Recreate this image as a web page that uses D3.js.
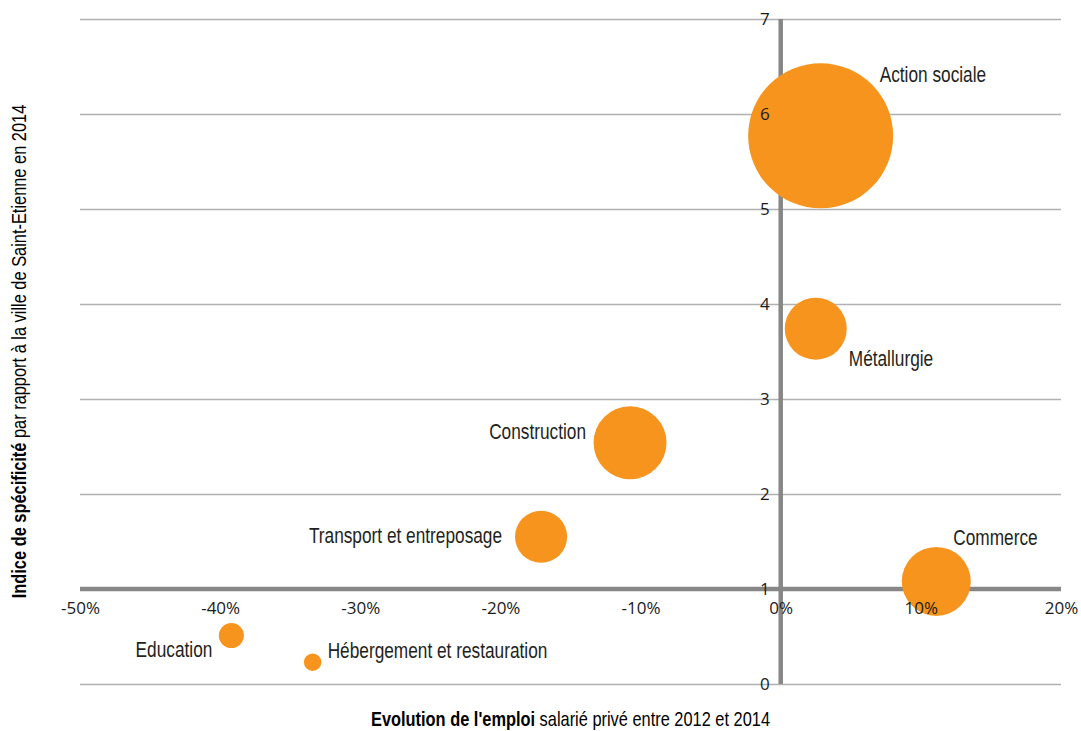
<!DOCTYPE html>
<html>
<head>
<meta charset="utf-8">
<script src="https://cdn.jsdelivr.net/npm/d3@7"></script>
<style>
  body { margin: 0; background: #fff; }
</style>
</head>
<body>
<div id="chart"></div>
<script>
const sectors = ['Action sociale', 'Métallurgie', 'Construction', 'Transport et entreposage', 'Commerce', 'Education', 'Hébergement et restauration'];
const evolution = [0.0285, 0.025, -0.1075, -0.171, 0.111, -0.392, -0.334];
const specificity = [5.77, 3.74, 2.54, 1.55, 1.08, 0.51, 0.23];
const employees = [10000, 1830, 2530, 1290, 2265, 300, 145];
const xTicks = [-0.5, -0.4, -0.3, -0.2, -0.1, 0, 0.1, 0.2];
const yTicks = [0, 1, 2, 3, 4, 5, 6, 7];

const data = sectors.map((s, i) => ({
    name: s, x: evolution[i], y: specificity[i], size: employees[i]
}));

// label placement around each bubble
const labelPos = {
    'Action sociale': { dx: 59, dy: -54, anchor: 'start' },
    'Métallurgie': { dx: 33, dy: 37, anchor: 'start' },
    'Construction': { dx: -44, dy: -4, anchor: 'end' },
    'Transport et entreposage': { dx: -39, dy: 6, anchor: 'end' },
    'Commerce': { dx: 17, dy: -36, anchor: 'start' },
    'Education': { dx: -19, dy: 21, anchor: 'end' },
    'Hébergement et restauration': { dx: 15, dy: -4, anchor: 'start' }
};

const width = 1081;
const height = 731;
const margin = { top: 19, bottom: 47, left: 80, right: 20 };
// condensed look: Liberation Sans squeezed horizontally
const narrow = "'Liberation Sans', Arial, sans-serif";
const orange = '#f7941d';

const svg = d3.select('#chart')
    .append('svg')
    .attr('width', width)
    .attr('height', height);

const x = d3.scaleLinear()
    .domain([-0.5, 0.2])
    .range([margin.left, width - margin.right]);

const y = d3.scaleLinear()
    .domain([0, 7])
    .range([height - margin.bottom, margin.top]);

const r = d3.scaleSqrt()
    .domain([0, 10000])
    .range([0, 72.5]);

// horizontal grid
svg.append('g')
    .attr('transform', `translate(${x.range()[0]},0)`)
    .call(d3.axisLeft(y).tickValues(yTicks).tickSize(-(x.range()[1] - x.range()[0])).tickFormat(''))
    .call(g => g.select('.domain').remove())
    .call(g => g.selectAll('line').attr('stroke', '#b1b1b1').attr('stroke-width', 1.5));

// thick axis lines
svg.append('line')
    .attr('x1', x.range()[0]).attr('x2', x.range()[1])
    .attr('y1', y(1)).attr('y2', y(1))
    .attr('stroke', '#878787').attr('stroke-width', 4.5);
svg.append('line')
    .attr('x1', x(0)).attr('x2', x(0))
    .attr('y1', y(7)).attr('y2', y(0))
    .attr('stroke', '#878787').attr('stroke-width', 4.5);

// bubbles
svg.append('g')
    .selectAll('circle')
    .data(data)
    .join('circle')
    .attr('cx', d => x(d.x))
    .attr('cy', d => y(d.y))
    .attr('r', d => r(d.size))
    .attr('fill', orange);

// tick labels
svg.append('g')
    .attr('transform', `translate(${x(0)},0)`)
    .call(d3.axisLeft(y).tickValues(yTicks).tickSize(0).tickPadding(11).tickFormat(d3.format('d')))
    .call(g => g.select('.domain').remove())
    .call(g => g.selectAll('text')
        .style('font-family', "'Open Sans', sans-serif")
        .style('font-size', '17px')
        .attr('fill', '#1a1a1a'));

svg.append('g')
    .attr('transform', `translate(0,${y(1)})`)
    .call(d3.axisBottom(x).tickValues(xTicks).tickSize(0).tickPadding(13)
        .tickFormat(d => Math.round(d * 100) + '%'))
    .call(g => g.select('.domain').remove())
    .call(g => g.selectAll('text')
        .style('font-family', "'Open Sans', sans-serif")
        .style('font-size', '17px')
        .attr('fill', '#1a1a1a'));

// bubble labels
svg.append('g')
    .selectAll('text')
    .data(data)
    .join('text')
    .attr('transform', d => `translate(${x(d.x) + labelPos[d.name].dx},${y(d.y) + labelPos[d.name].dy}) scale(0.785,1)`)
    .attr('text-anchor', d => labelPos[d.name].anchor)
    .style('font-family', narrow)
    .style('font-size', '22px')
    .attr('fill', '#231f20')
    .text(d => d.name);

// axis titles
const xTitle = svg.append('text')
    .attr('transform', `translate(${(x.range()[0] + x.range()[1]) / 2},726) scale(0.82,1)`)
    .attr('text-anchor', 'middle')
    .style('font-family', narrow)
    .style('font-size', '20px')
    .attr('fill', '#000');
xTitle.append('tspan').attr('font-weight', 'bold').text("Evolution de l'emploi");
xTitle.append('tspan').text(' salarié privé entre 2012 et 2014');

const yTitle = svg.append('text')
    .attr('transform', `translate(26,${(y.range()[0] + y.range()[1]) / 2}) rotate(-90) scale(0.82,1)`)
    .attr('text-anchor', 'middle')
    .style('font-family', narrow)
    .style('font-size', '20px')
    .attr('fill', '#000');
yTitle.append('tspan').attr('font-weight', 'bold').text('Indice de spécificité');
yTitle.append('tspan').text(' par rapport à la ville de Saint-Etienne en 2014');
</script>
</body>
</html>
